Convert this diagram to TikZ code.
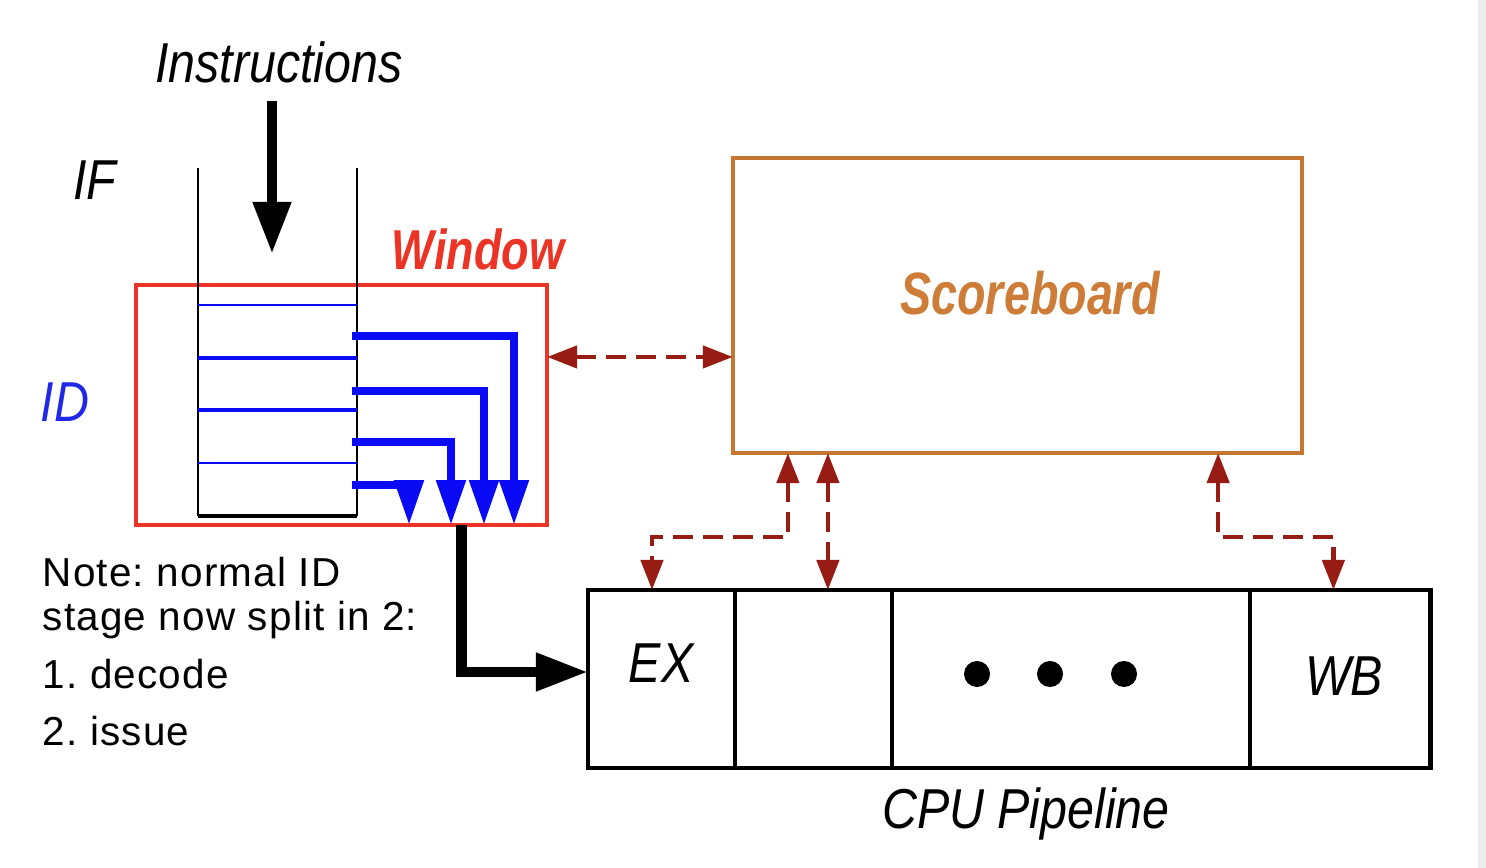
\documentclass[tikz,border=0pt]{standalone}
\usepackage{xcolor}
\usepackage{graphicx}
\usepackage{fontspec}
\setmainfont{Liberation Sans}
\usepackage{tikz}
\usetikzlibrary{arrows.meta, positioning, calc}
\definecolor{mywinred}{RGB}{236,52,38}
\definecolor{myblue}{RGB}{10,10,245}
\definecolor{myidblue}{RGB}{30,40,230}
\definecolor{myorange}{RGB}{198,118,48}
\definecolor{mytxtorange}{RGB}{205,125,55}
\definecolor{mydashred}{RGB}{150,28,20}
\definecolor{mystrip}{RGB}{236,236,236}
\newcommand{\cnd}[1]{\scalebox{0.86}[1]{#1}}
\frenchspacing
\tikzset{
  lbl/.style={font=\fontsize{16}{18}\selectfont\itshape, inner sep=0pt},
  notetxt/.style={font=\fontsize{11.5}{13}\selectfont\addfontfeatures{LetterSpace=3}, inner sep=0pt, anchor=base west},
  winbox/.style={rectangle, draw=mywinred, line width=1.1pt, minimum width=4.11cm,
    minimum height=2.40cm, inner sep=0pt, outer sep=0pt},
  sbbox/.style={rectangle, draw=myorange, line width=1.1pt, minimum width=5.69cm,
    minimum height=2.95cm, inner sep=0pt, outer sep=0pt},
  stage/.style={rectangle, draw=black, line width=1.2pt, minimum height=1.78cm,
    inner sep=0pt, outer sep=0pt},
  sbarrow/.style={{Triangle[length=0.3cm,width=0.22cm]}-{Triangle[length=0.3cm,width=0.22cm]},
    line width=1.3pt, color=mydashred, dash pattern=on 0.2cm off 0.1cm},
  slotarrow/.style={-{Triangle[length=0.45cm,width=0.28cm]}, line width=2.3pt, color=myblue},
  bigarrow/.style={-{Triangle[length=0.52cm,width=0.36cm]}, line width=3pt, color=black}
}
\begin{document}
\begin{tikzpicture}[x=0.01cm, y=-0.01cm]
  \useasboundingbox (0,0) rectangle (1486,868);
  \fill[mystrip] (1478,0) rectangle (1486,868);
  % Labels
  \node[lbl, anchor=base] (instr) at (279,83) {\cnd{Instructions}};
  \node[lbl, anchor=base] (iflbl) at (95,200) {\cnd{IF}};
  \node[lbl, anchor=base, color=myidblue] (idlbl) at (65,422) {\cnd{ID}};
  \node[lbl, anchor=base, color=mywinred, font=\fontsize{16}{18}\selectfont\bfseries\itshape]
    (winlbl) at (478,270) {\scalebox{0.8}[1]{Window}};
  % Window and scoreboard
  \node[winbox] (window) at (341.5,405) {};
  \node[sbbox] (score) at (1017.5,305.5) {};
  \node[lbl, anchor=base, color=mytxtorange, font=\fontsize{17}{19}\selectfont\bfseries\itshape]
    (sblbl) at (1030,315) {\scalebox{0.78}[1]{Scoreboard}};
  % Pipeline stages
  \node[stage, minimum width=1.47cm] (ex) at (661.5,679) {};
  \node[stage, minimum width=1.57cm, right=0pt of ex] (blank) {};
  \node[stage, minimum width=3.58cm, right=0pt of blank] (dots) {};
  \node[stage, minimum width=1.80cm, right=0pt of dots] (wb) {};
  \node[lbl, anchor=base] (exlbl) at (661,683) {\cnd{EX}};
  \node[lbl, anchor=base] (wblbl) at (1344,696) {\cnd{WB}};
  \node[lbl, anchor=base] (cpulbl) at (1026,828) {\cnd{CPU Pipeline}};
  \foreach \x in {977,1050,1124}
    \fill (\x,674) circle (0.13cm);
  % Queue
  \coordinate (qtl) at (198,168);
  \coordinate (qtr) at (357,168);
  \coordinate (qbl) at (198,516);
  \coordinate (qbr) at (357,516);
  \coordinate (qin) at (272,254);
  \draw[line width=0.7pt] (qtl) -- (qbl);
  \draw[line width=0.7pt] (qtr) -- (qbr);
  \draw[line width=1.4pt] (qbl) -- (qbr);
  \foreach \y/\w in {305/0.6pt, 358/1.4pt, 410/1.4pt, 463/0.6pt}
    \draw[myblue, line width=\w] (198,\y) -- (357,\y);
  \draw[bigarrow] ([yshift=-0.17cm]instr.south -| qin) -- (qin);
  % Issue paths
  \foreach \y/\x in {336/514, 391/484, 442/451, 485/409}
    \draw[slotarrow] (352,\y) -| (\x,0 |- window.south);
  \draw[bigarrow] ([xshift=1.2cm]window.south) |- ([yshift=0.07cm]ex.west);
  % Scoreboard links
  \draw[sbarrow] ([yshift=0.48cm]window.east) -- ([yshift=0.48cm]window.east -| score.west);
  \draw[sbarrow] ([xshift=0.55cm]score.south west) -- ++(0,84) -| ([xshift=-0.095cm]ex.north);
  \draw[sbarrow] ([xshift=0.95cm]score.south west) -- ([xshift=0.95cm]score.south west |- blank.north);
  \draw[sbarrow] ([xshift=-0.84cm]score.south east) -- ++(0,84) -| ([xshift=-0.07cm]wb.north);
  % Note
  \node[notetxt] (note1) at (42,587) {Note: normal ID};
  \node[notetxt] (note2) at (42,631) {stage now split in 2:};
  \node[notetxt] (note3) at (42,689) {1. decode};
  \node[notetxt] (note4) at (42,745) {2. issue};
\end{tikzpicture}
\end{document}
